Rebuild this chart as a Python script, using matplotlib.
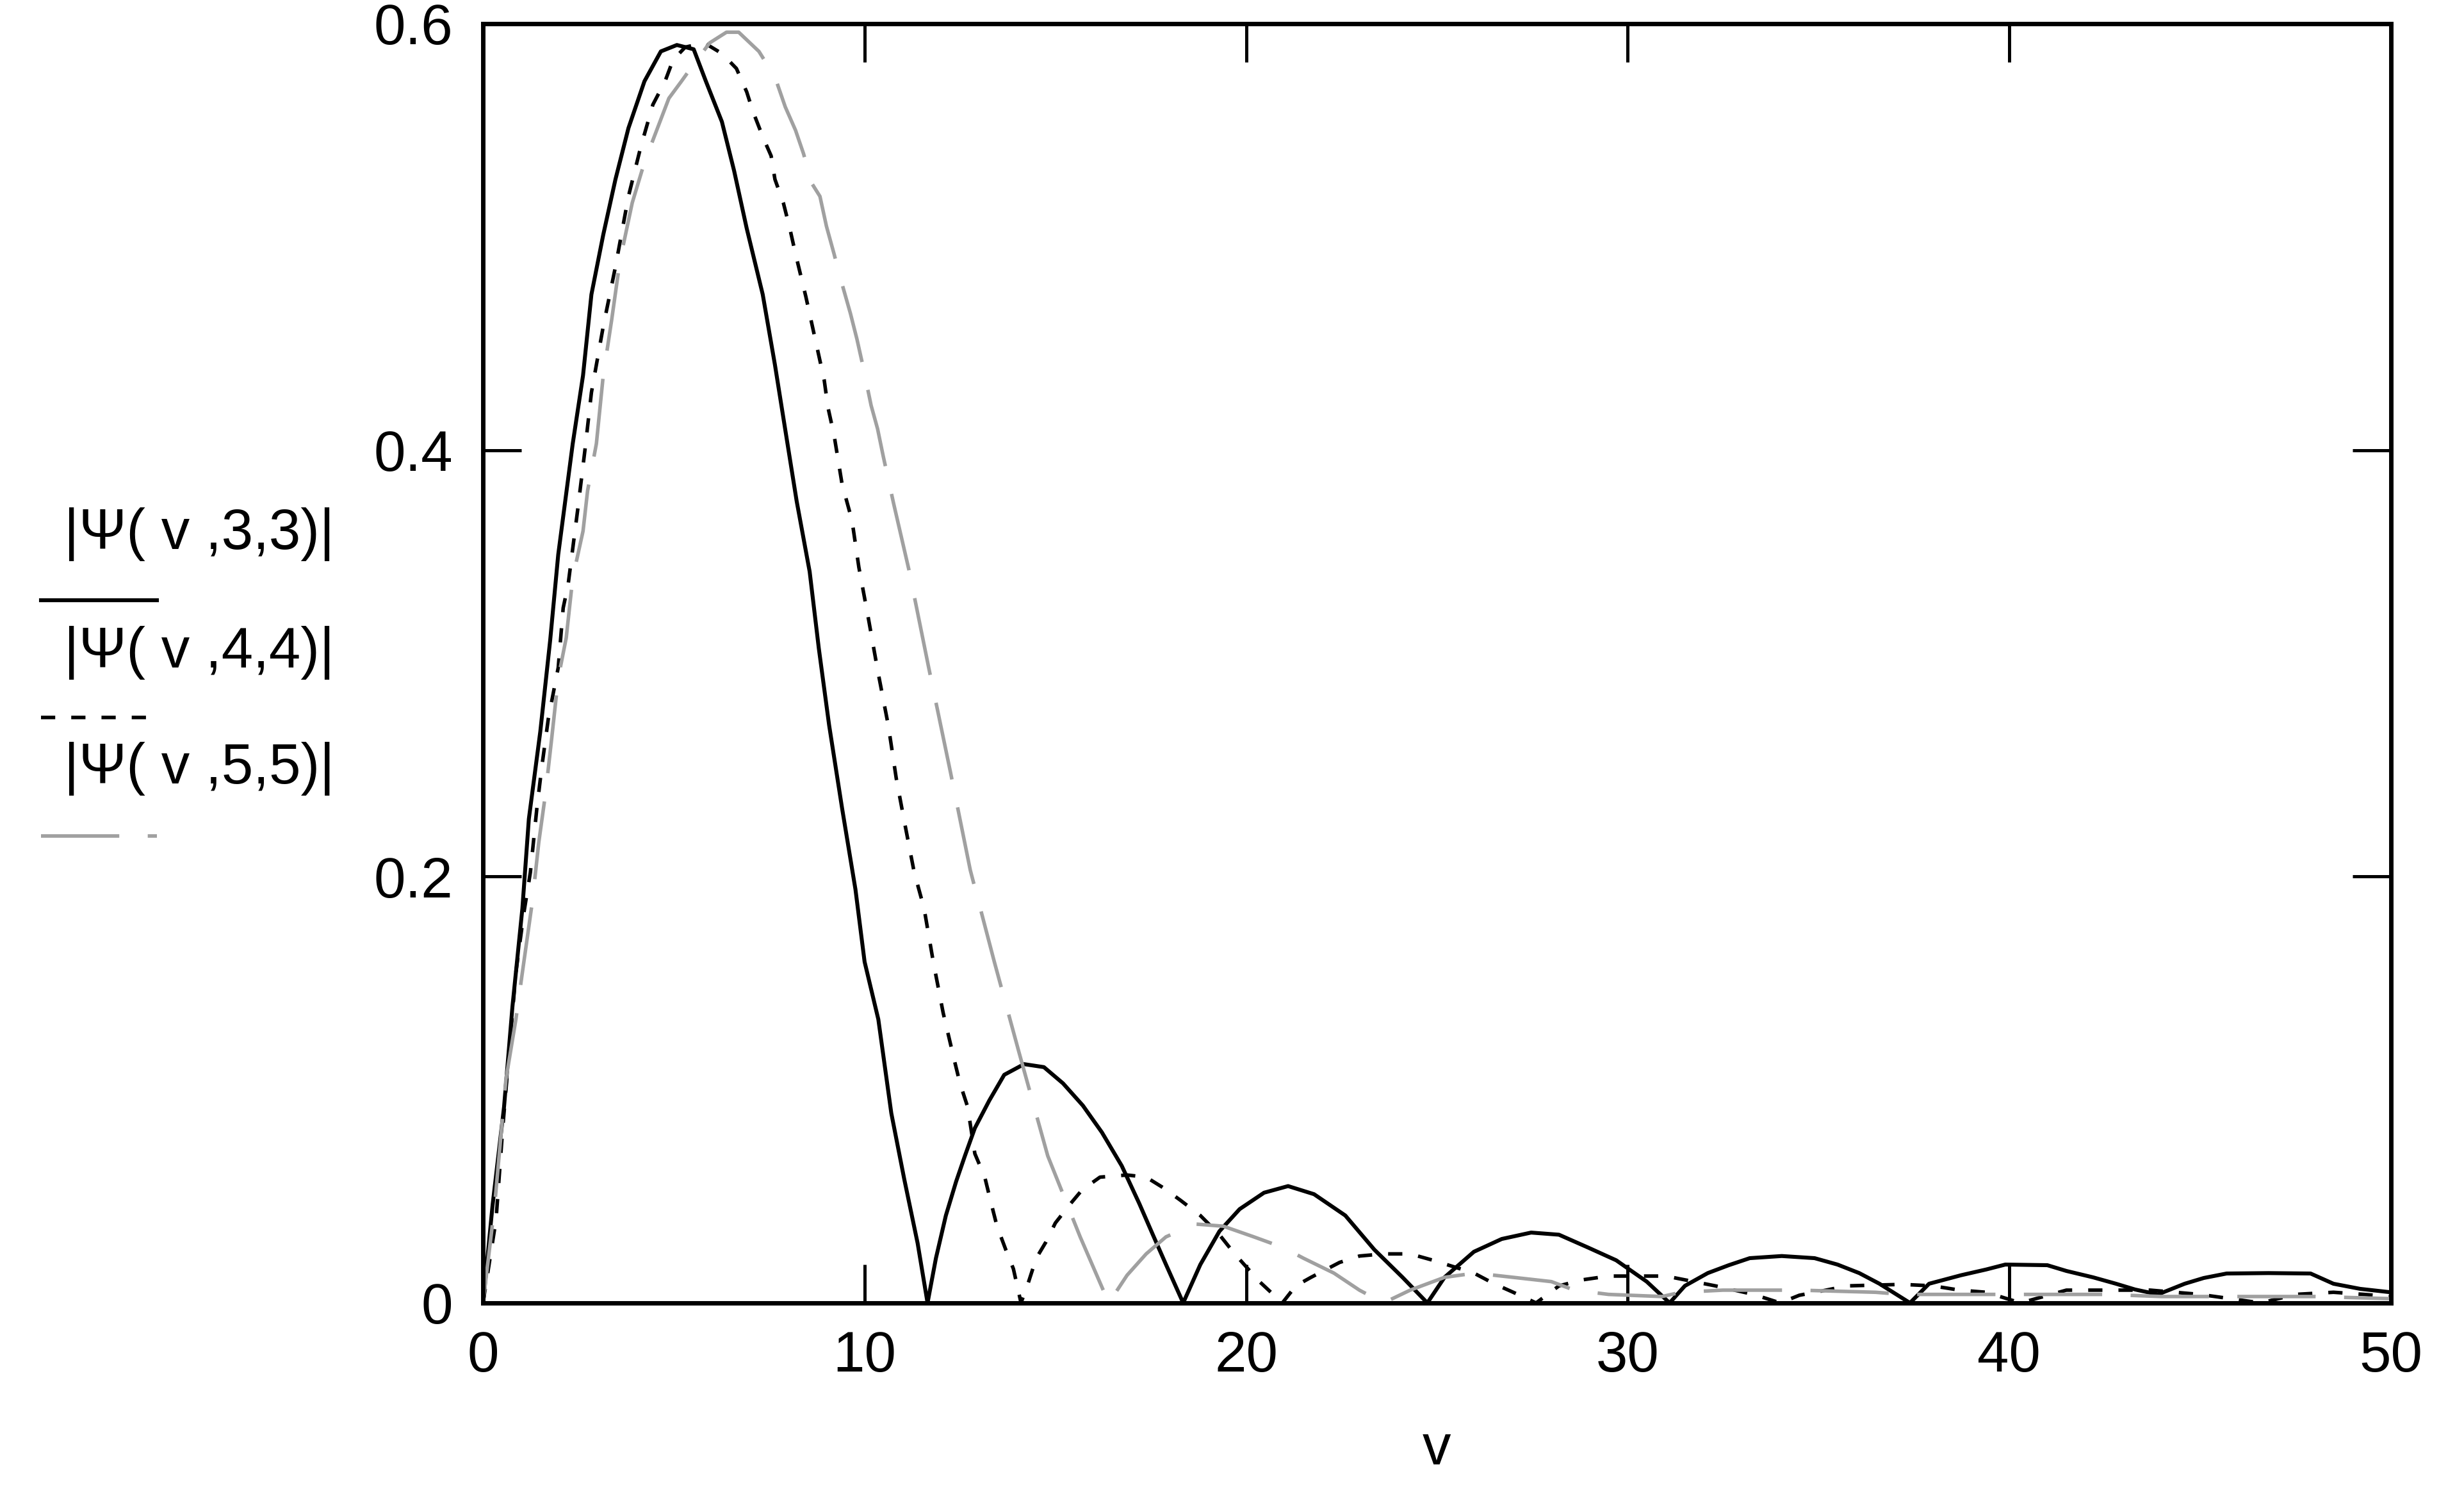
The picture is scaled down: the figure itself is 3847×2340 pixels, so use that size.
import matplotlib.pyplot as plt
from matplotlib.lines import Line2D

plt.rcParams['font.family'] = ['Liberation Sans', 'DejaVu Sans']

# |Psi(v,3,3)| -- solid
v33 = [0, 0.25, 0.55, 0.77, 1.03, 1.2, 1.5, 1.76, 1.97, 2.35, 2.62, 2.84, 3.15, 3.47,
       3.81, 4.23, 4.66, 5.08, 5.52, 5.84, 6.26, 6.58, 6.91, 7.33, 7.65, 7.97, 8.22,
       8.56, 8.8, 9.07, 9.41, 9.76, 10.0, 10.36, 10.7, 11.04, 11.39, 11.65, 11.87,
       12.13, 12.4, 12.63, 12.89, 13.27, 13.66, 14.18, 14.7, 15.2, 15.72, 16.22, 16.74,
       17.2, 17.58, 17.9, 18.35, 18.8, 19.3, 19.83, 20.47, 21.1, 21.78, 22.6, 23.36,
       24.1, 24.75, 25.2, 25.97, 26.7, 27.47, 28.2, 28.96, 29.7, 30.5, 31.1, 31.5,
       32.1, 32.65, 33.2, 34.04, 34.9, 35.5, 36.07, 36.6, 37.4, 37.9, 38.74, 39.4,
       39.9, 41.0, 41.5, 42.2, 42.8, 43.3, 43.9, 44.6, 45.1, 45.7, 46.8, 47.9, 48.5,
       49.2, 50]
psi33 = [0, 0.046, 0.092, 0.139, 0.185, 0.227, 0.268, 0.311, 0.351, 0.403, 0.435, 0.473,
         0.501, 0.527, 0.551, 0.573, 0.587, 0.590, 0.588, 0.573, 0.554, 0.531, 0.504,
         0.473, 0.440, 0.404, 0.376, 0.343, 0.307, 0.271, 0.232, 0.194, 0.160, 0.133,
         0.089, 0.058, 0.028, 0.0, 0.021, 0.041, 0.057, 0.069, 0.082, 0.095, 0.107,
         0.112, 0.1106, 0.103, 0.0926, 0.080, 0.0643, 0.0466, 0.031, 0.018, 0.0, 0.018,
         0.0336, 0.044, 0.0517, 0.0548, 0.051, 0.041, 0.025, 0.012, 0.0, 0.012, 0.024,
         0.030, 0.033, 0.032, 0.026, 0.020, 0.010, 0.0, 0.008, 0.014, 0.0177, 0.021,
         0.022, 0.021, 0.018, 0.014, 0.009, 0.0, 0.009, 0.013, 0.0157, 0.018, 0.0177,
         0.015, 0.012, 0.009, 0.0063, 0.004, 0.009, 0.0117, 0.0138, 0.014, 0.0138,
         0.009, 0.0066, 0.005]

# |Psi(v,4,4)| -- dashed
v44 = [0, 0.34, 0.52, 0.86, 1.07, 1.24, 1.41, 1.54, 1.71, 1.97, 2.1, 2.23, 2.48, 2.67,
       2.84, 3.15, 3.47, 3.81, 4.13, 4.45, 4.77, 4.98, 5.3, 5.8, 6.26, 6.64, 6.91, 7.07,
       7.33, 7.55, 7.65, 7.87, 8.04, 8.19, 8.46, 8.62, 8.78, 8.94, 9.04, 9.2, 9.41,
       9.67, 9.85, 10.1, 10.35, 10.62, 10.83, 11.04, 11.3, 11.56, 11.8, 12.06, 12.35,
       12.5, 12.7, 12.89, 13.15, 13.3, 13.47, 13.7, 13.9, 14.1, 14.3, 14.5, 14.75,
       15.0, 15.4, 15.7, 16.17, 16.88, 17.38, 17.83, 18.29, 18.8, 19.3, 19.7, 20.35,
       20.95, 21.3, 21.7, 22.45, 22.97, 23.6, 24.3, 24.9, 25.97, 26.5, 27.0, 27.6,
       28.2, 28.8, 29.5, 31.0, 32.3, 33.3, 34.0, 34.5, 35.2, 35.75, 37.2, 38.0, 38.7,
       39.4, 40.3, 41.5, 42.2, 43.7, 45.0, 46.6, 47.5, 48.5, 49.3, 50]
psi44 = [0, 0.039, 0.083, 0.155, 0.183, 0.202, 0.232, 0.2515, 0.274, 0.298, 0.326,
         0.337, 0.372, 0.400, 0.427, 0.458, 0.486, 0.519, 0.542, 0.562, 0.573, 0.583,
         0.589, 0.591, 0.586, 0.579, 0.568, 0.559, 0.547, 0.538, 0.527, 0.516, 0.504,
         0.492, 0.472, 0.459, 0.446, 0.433, 0.420, 0.407, 0.384, 0.367, 0.345, 0.321,
         0.296, 0.271, 0.246, 0.226, 0.202, 0.185, 0.160, 0.136, 0.114, 0.103, 0.092,
         0.070, 0.059, 0.048, 0.036, 0.025, 0.016, 0.0, 0.010, 0.021, 0.0285, 0.0375,
         0.0466, 0.053, 0.059, 0.060, 0.059, 0.054, 0.048, 0.041, 0.032, 0.023, 0.010,
         0.0, 0.008, 0.012, 0.019, 0.022, 0.023, 0.023, 0.020, 0.014, 0.009, 0.005, 0.0,
         0.008, 0.0108, 0.0126, 0.0126, 0.008, 0.004, 0.0, 0.0036, 0.006, 0.008, 0.0087,
         0.008, 0.006, 0.005, 0.0, 0.006, 0.006, 0.006, 0.004, 0.0, 0.004, 0.005, 0.004,
         0.003]

# |Psi(v,5,5)| -- grey
v55 = [0, 0.3, 0.6, 0.86, 1.03, 1.29, 1.46, 1.63, 1.8, 1.97, 2.18, 2.35, 2.62, 2.74,
       2.97, 3.15, 3.37, 3.59, 3.91, 4.23, 4.55, 4.87, 5.2, 5.52, 5.94, 6.38, 6.7, 7.23,
       7.65, 7.92, 8.19, 8.4, 8.62, 8.83, 9.0, 9.2, 9.36, 9.63, 9.8, 9.95, 10.17, 10.34,
       10.49, 10.76, 11.16, 11.68, 12.25, 12.77, 13.4, 14.04, 14.8, 15.65, 16.4, 16.88,
       17.38, 17.9, 18.67, 19.4, 20.2, 20.97, 21.5, 22.3, 22.97, 23.6, 24.3, 25.2, 26.0,
       27.0, 28.0, 28.6, 29.5, 30.9, 31.4, 32.5, 33.6, 34.5, 36.5, 37.2, 39.6, 40.4,
       42.5, 44.0, 46.0, 48.0, 50]
psi55 = [0, 0.045, 0.105, 0.133, 0.155, 0.188, 0.216, 0.238, 0.265, 0.293, 0.312, 0.340,
         0.362, 0.381, 0.403, 0.435, 0.461, 0.489, 0.516, 0.535, 0.550, 0.565, 0.573,
         0.581, 0.591, 0.596, 0.596, 0.587, 0.575, 0.561, 0.550, 0.539, 0.525, 0.519,
         0.505, 0.492, 0.481, 0.464, 0.452, 0.440, 0.421, 0.410, 0.397, 0.375, 0.344,
         0.298, 0.249, 0.203, 0.160, 0.118, 0.069, 0.031, 0.0, 0.013, 0.023, 0.031,
         0.037, 0.036, 0.031, 0.026, 0.021, 0.014, 0.006, 0.0, 0.006, 0.012, 0.014,
         0.012, 0.010, 0.006, 0.004, 0.003, 0.005, 0.006, 0.006, 0.006, 0.005, 0.004,
         0.004, 0.004, 0.004, 0.003, 0.003, 0.003, 0.002]

labels = ["|Ψ( v ,3,3)|", "|Ψ( v ,4,4)|", "|Ψ( v ,5,5)|"]
xticks = [0, 10, 20, 30, 40, 50]
yticks = [0, 0.2, 0.4, 0.6]
ytick_labels = ["0", "0.2", "0.4", "0.6"]

grey = "#a0a0a0"
styles = [
    dict(color="black", lw=2.2, ls="-"),
    dict(color="black", lw=2.0, ls=(0, (4, 4.5))),
    dict(color=grey, lw=2.0, ls=(0, (22, 8))),
]

fig = plt.figure(figsize=(19.24, 11.7), dpi=200)
ax = fig.add_axes([0.196, 0.1308, 0.774, 0.8534])

ax.plot(v33, psi33, **styles[0])
ax.plot(v44, psi44, **styles[1])
ax.plot(v55, psi55, **styles[2])

ax.set_xlim(0, 50)
ax.set_ylim(0, 0.6)
ax.set_xticks(xticks)
ax.set_xticklabels([str(t) for t in xticks])
ax.set_yticks(yticks)
ax.set_yticklabels(ytick_labels)
ax.tick_params(direction="in", length=21.6, width=1.8, top=True, right=True,
               labelsize=32, pad=15)
ax.tick_params(axis="y", pad=17)
for sp in ax.spines.values():
    sp.set_linewidth(2.5)
ax.set_xlabel("v", fontsize=32, labelpad=22)

# legend at the left, label with trace sample under it
text_y = [0.6436, 0.5645, 0.4872]
line_y = [0.5996, 0.5214, 0.4423]
for lab, ty, ly, st in zip(labels, text_y, line_y, styles):
    fig.text(0.026, ty, lab, fontsize=32, ha="left", va="center")
    fig.add_artist(Line2D([0.0166, 0.0637], [ly, ly], transform=fig.transFigure, **st))

fig.savefig("out.png", dpi=200)
